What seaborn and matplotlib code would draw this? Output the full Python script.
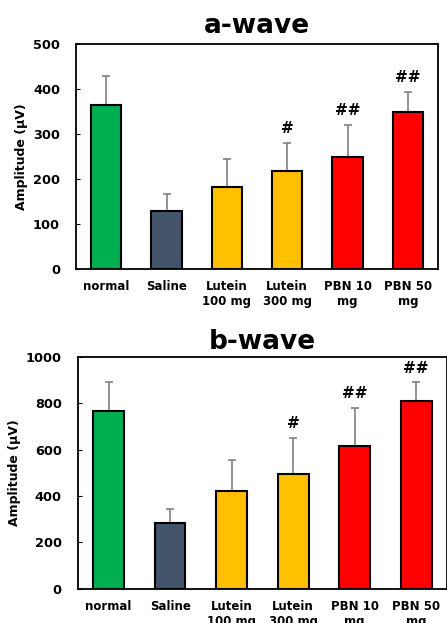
import numpy as np
import pandas as pd
import seaborn as sns
import matplotlib.pyplot as plt

groups = ['normal', 'Saline', 'Lutein\n100 mg', 'Lutein\n300 mg', 'PBN 10\nmg', 'PBN 50\nmg']
colors = ['#00B050', '#44546A', '#FFC000', '#FFC000', '#FF0000', '#FF0000']

a_mean = [365, 129, 182, 219, 249, 349]
a_err = [64, 38, 63, 62, 72, 44]
b_mean = [769, 282, 420, 496, 615, 808]
b_err = [124, 60, 134, 156, 163, 82]
marks = ['', '', '', '#', '##', '##']

sns.set_style('white')
plt.rcParams['font.family'] = ['DejaVu Sans']
plt.rcParams['font.weight'] = 'bold'
plt.rcParams['text.color'] = 'black'
plt.rcParams['axes.labelcolor'] = 'black'
plt.rcParams['xtick.color'] = 'black'
plt.rcParams['ytick.color'] = 'black'

fig = plt.figure(figsize=(4.47, 6.23), dpi=100)
ax1 = fig.add_axes([0.170, 0.568, 0.810, 0.361])
ax2 = fig.add_axes([0.174, 0.055, 0.826, 0.372])


def panel(ax, mean, err, title, ymax, step, tpad):
    df = pd.DataFrame({'group': groups, 'amp': mean})
    sns.barplot(data=df, x='group', y='amp', hue='group', palette=colors,
                saturation=1, edgecolor='black', linewidth=1.5, width=0.5,
                legend=False, ax=ax, zorder=2)
    x = np.arange(len(groups))
    ax.errorbar(x, mean, yerr=[np.zeros(len(err)), err], fmt='none',
                ecolor='#808080', elinewidth=1.2, capsize=3, capthick=1.2, zorder=1)
    for xi, m, e, s in zip(x, mean, err, marks):
        if s:
            ax.annotate(s, (xi, m + e), xytext=(0, 5), textcoords='offset points',
                        ha='center', va='bottom', fontsize=11, fontweight='bold',
                        color='black')
    ax.set_xlim(-0.5, len(groups) - 0.5)
    ax.set_ylim(0, ymax)
    ax.set_yticks(np.arange(0, ymax + 1, step))
    ax.set_title(title, fontsize=19, fontweight='bold', pad=tpad, color='black')
    ax.set_xlabel('')
    ax.set_ylabel('Amplitude (\u03bcV)', fontsize=9, fontweight='bold', labelpad=3.5)
    ax.tick_params(axis='y', direction='in', length=3, width=0.8, colors='black',
                   left=True, labelsize=9.3, pad=11.5)
    ax.tick_params(axis='x', length=0, labelsize=8.5, pad=8, colors='black')
    for lab in ax.get_xticklabels() + ax.get_yticklabels():
        lab.set_fontweight('bold')
    for sp in ax.spines.values():
        sp.set_visible(True)
        sp.set_color('black')
        sp.set_linewidth(1.3)


panel(ax1, a_mean, a_err, 'a-wave', 500, 100, 8)
panel(ax2, b_mean, b_err, 'b-wave', 1000, 200, 6)

fig.savefig('out.png', dpi=100)
